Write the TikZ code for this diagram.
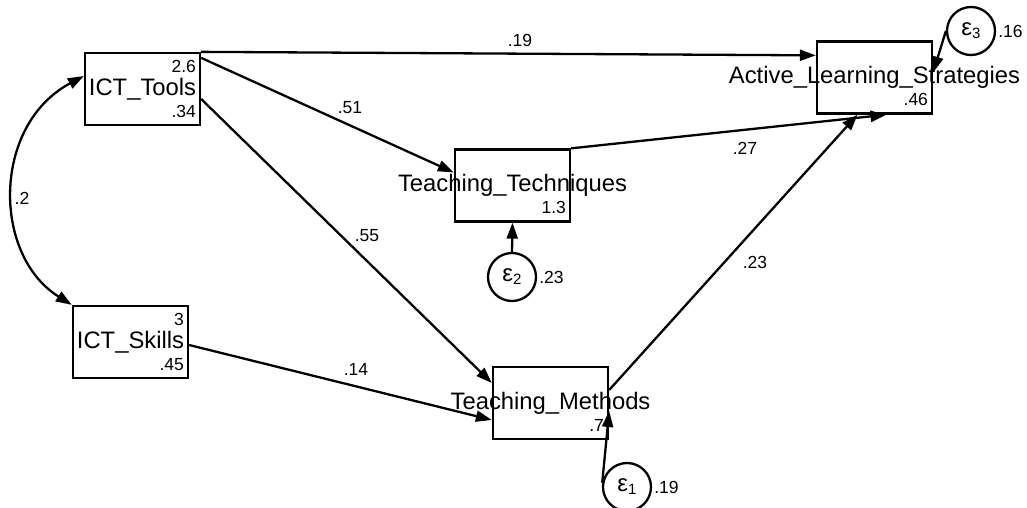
\documentclass[tikz,border=0pt]{standalone}
\usepackage{fontspec}
\setmainfont{Liberation Sans}
\usetikzlibrary{arrows.meta}
\begin{document}
\begin{tikzpicture}[x=1pt,y=-1pt,
  varbox/.style={draw,line width=2.3pt,minimum width=115pt,minimum height=72pt,inner sep=0pt},
  errcirc/.style={draw,circle,line width=2.3pt,minimum size=48pt,inner sep=0pt},
  vname/.style={font=\fontsize{23.8}{23.8}\selectfont,inner sep=0pt},
  num/.style={font=\fontsize{17.5}{17.5}\selectfont,inner sep=2pt},
  inum/.style={num,inner xsep=5pt,inner ysep=8.5pt},
  path/.style={line width=2.3pt,-{Triangle[length=16pt,width=11pt]}},
  cov/.style={line width=2.3pt,{Triangle[length=16pt,width=11pt]}-{Triangle[length=16pt,width=11pt]}},
  eps/.style={font=\fontsize{24}{24}\selectfont}]
\useasboundingbox (0,0) rectangle (1027,507);

% observed variables
\node[varbox] (tools) at (142.5,89) {};
\node[vname] at (tools.center) {ICT\_Tools};
\node[inum,anchor=north east] at (tools.north east) {2.6};
\node[inum,anchor=south east] at (tools.south east) {.34};

\node[varbox] (skills) at (130.5,342) {};
\node[vname] at (skills.center) {ICT\_Skills};
\node[inum,anchor=north east] at (skills.north east) {3};
\node[inum,anchor=south east] at (skills.south east) {.45};

\node[varbox] (tt) at (512.5,185.5) {};
\node[vname] at (tt.center) {Teaching\_Techniques};
\node[inum,anchor=south east] at (tt.south east) {1.3};

\node[varbox] (tm) at (550.5,403) {};
\node[vname] at (tm.center) {Teaching\_Methods};
\node[inum,anchor=south east] at (tm.south east) {.7};

\node[varbox] (als) at (874.5,77.5) {};
\node[vname] at (als.center) {Active\_Learning\_Strategies};
\node[inum,anchor=south east] at (als.south east) {.46};

% error terms
\node[errcirc,eps] (e2) at (512,277) {ε\raisebox{-3pt}{\fontsize{15}{15}\selectfont 2}};
\node[num,anchor=west] (v2) at (e2.east) {.23};
\node[errcirc,eps] (e1) at (627,487) {ε\raisebox{-3pt}{\fontsize{15}{15}\selectfont 1}};
\node[num,anchor=west] (v1) at (e1.east) {.19};
\node[errcirc,eps] (e3) at (971,31) {ε\raisebox{-3pt}{\fontsize{15}{15}\selectfont 3}};
\node[num,anchor=west] (v3) at (e3.east) {.16};

% structural paths
\draw[path] (tools.north east) -- ([yshift=-15pt]als.north west);
\draw[path] ([yshift=-6pt]tools.north east) -- ([yshift=13pt]tt.west);
\draw[path] ([yshift=-10pt]tools.east) -- ([yshift=20pt]tm.west);
\draw[path] ([yshift=-3pt]skills.east) -- ([yshift=-17pt]tm.west);
\draw[path] (tt.north east) -- ([xshift=12pt]als.south);
\draw[path] ([yshift=13pt]tm.east) -- ([xshift=-17pt]als.south);
\draw[path] (e2.north) -- (tt.south);
\draw[path] (e1.170) -- ([yshift=-8pt]tm.east);
\draw[path] (e3.west) -- ([yshift=5pt]als.east);
\draw[cov] ([yshift=13pt]tools.west) .. controls (-8,125) and (-8,255) .. (skills.north west);

% coefficients
\node[num] (c1) at (520,40) {.19};
\node[num] (c2) at (350,108) {.51};
\node[num] (c3) at (367,236) {.55};
\node[num] (c4) at (356,369) {.14};
\node[num] (c5) at (745,148) {.27};
\node[num] (c6) at (755,262) {.23};
\node[num] (c7) at (22,198) {.2};
\end{tikzpicture}
\end{document}
